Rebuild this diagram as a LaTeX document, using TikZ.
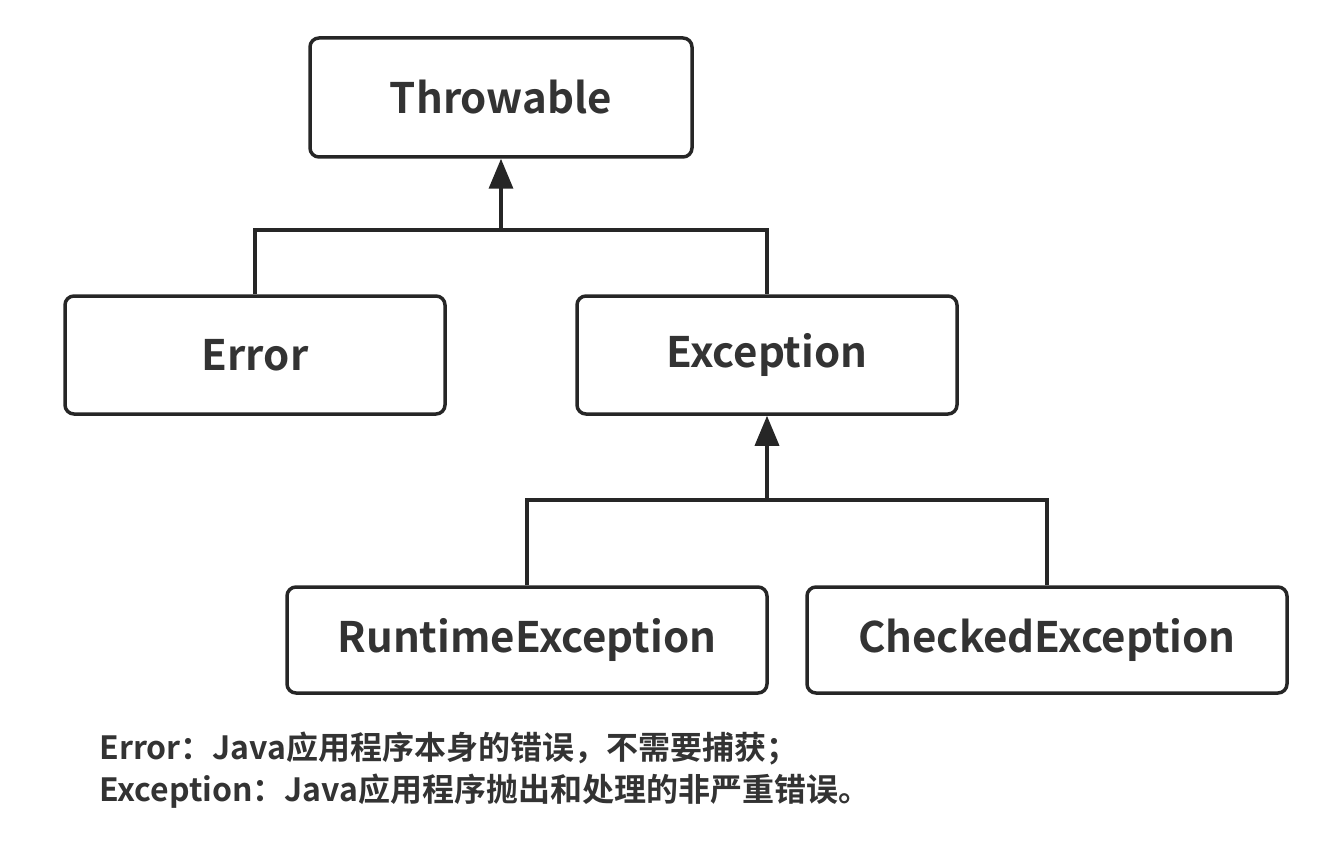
\documentclass[tikz,border=0pt]{standalone}
\usepackage{fontspec}
\setmainfont{Noto Sans CJK SC}[BoldFont={* Bold}]
\usetikzlibrary{arrows.meta}
\begin{document}
\begin{tikzpicture}[x=1pt,y=-1pt,
  box/.style={draw=black!85,line width=3.5pt,rounded corners=9pt,font=\bfseries\fontsize{42}{48}\selectfont,text=black!80},
  ln/.style={draw=black!85,line width=3.5pt},
  ar/.style={ln,-{Triangle[length=30pt,width=24pt]}}]
\useasboundingbox (0,0) rectangle (1334,848);
\node[box,minimum width=382pt,minimum height=119pt] (thr) at (501,97.5) {Throwable};
\node[box,minimum width=380pt,minimum height=118pt] (err) at (255,355) {Error};
\node[box,minimum width=380pt,minimum height=118pt] (exc) at (767,355) {Exception};
\node[box,minimum width=480pt,minimum height=106pt] (run) at (527,640) {RuntimeException};
\node[box,minimum width=480pt,minimum height=106pt] (chk) at (1047,640) {CheckedException};
\coordinate (j1) at (501,230);
\coordinate (j2) at (767,500);
\draw[ln] (err.north) |- (j1) -| (exc.north);
\draw[ar] (j1) -- (thr.south);
\draw[ln] (run.north) |- (j2) -| (chk.north);
\draw[ar] (j2) -- (exc.south);
\node[anchor=west,align=left,text=black!80,font=\bfseries\fontsize{32}{42}\selectfont] (note) at (96,770)
 {Error：Java应用程序本身的错误，不需要捕获；\\Exception：Java应用程序抛出和处理的非严重错误。};
\end{tikzpicture}
\end{document}
